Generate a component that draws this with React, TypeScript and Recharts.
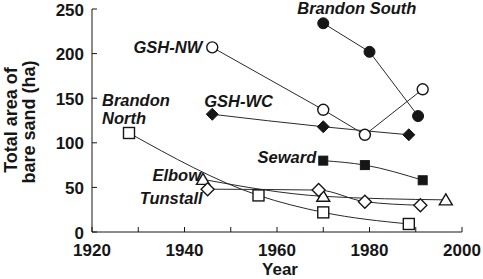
import { LineChart, Line, XAxis, YAxis, Label } from 'recharts'

const FONT = '"Liberation Sans", Arial, sans-serif'
const INK = '#161616'

// years + bare sand area (ha) per dune system
const brandonSouthYears = [1970, 1980, 1990.5]
const brandonSouthArea = [234, 202, 130]
const gshNwYears = [1946, 1970, 1979, 1991.5]
const gshNwArea = [207, 137, 109, 160]
const gshWcYears = [1946, 1970, 1988.5]
const gshWcArea = [132, 118, 109]
const sewardYears = [1970, 1979, 1991.5]
const sewardArea = [80, 75, 58]
const elbowYears = [1944, 1970, 1996.5]
const elbowArea = [59, 40, 36]
const tunstallYears = [1945, 1969, 1979, 1991]
const tunstallArea = [48, 47, 34, 30]
const brandonNorthYears = [1928, 1956, 1970, 1988.5]
const brandonNorthArea = [111, 41, 22, 9]

const xTicks = [1920, 1930, 1940, 1950, 1960, 1970, 1980, 1990, 2000]
const yTicks = [0, 50, 100, 150, 200, 250]

const zip = (years: number[], area: number[]) => years.map((year, i) => ({ year, area: area[i] }))

type Shape = 'circle' | 'diamond' | 'square' | 'triangle'

function marker(shape: Shape, filled: boolean) {
  return (p: any) => {
    const { cx, cy, index } = p
    if (cx == null || cy == null) return <g key={index} />
    const fill = filled ? INK : '#fff'
    const common = { fill, stroke: INK, strokeWidth: filled ? 1 : 1.4 }
    if (shape === 'circle') return <circle key={index} cx={cx} cy={cy} r={5.5} {...common} />
    if (shape === 'square') {
      const s = filled ? 9 : 11
      return <rect key={index} x={cx - s / 2} y={cy - s / 2} width={s} height={s} {...common} />
    }
    if (shape === 'diamond') {
      const h = filled ? 6 : 6.5
      return <polygon key={index} points={`${cx},${cy - h} ${cx + h},${cy} ${cx},${cy + h} ${cx - h},${cy}`} {...common} />
    }
    return <polygon key={index} points={`${cx},${cy - 6} ${cx + 6.5},${cy + 5} ${cx - 6.5},${cy + 5}`} {...common} />
  }
}

// series name, placed relative to the first point of the series
function seriesName(lines: string[], dx: number, dy: number, anchor: 'start' | 'end') {
  return (p: any) => {
    if (p.index !== 0) return <g key={p.index} />
    const x = p.x ?? p.viewBox?.x
    const y = p.y ?? p.viewBox?.y
    return (
      <g key="name">
        {lines.map((t, i) => (
          <text
            key={t}
            x={x + dx}
            y={y + dy + i * 18}
            textAnchor={anchor}
            fontFamily={FONT}
            fontSize={16.5}
            fontWeight="bold"
            fontStyle="italic"
            fill={INK}
          >
            {t}
          </text>
        ))}
      </g>
    )
  }
}

function XTick({ x, y, payload }: any) {
  return (
    <g>
      <line x1={x} x2={x} y1={y} y2={y - 5} stroke={INK} />
      {payload.value % 20 === 0 && (
        <text x={x} y={y + 24} textAnchor="middle" fontFamily={FONT} fontSize={17} fontWeight="bold" fill={INK}>
          {payload.value}
        </text>
      )}
    </g>
  )
}

function YTick({ x, y, payload }: any) {
  return (
    <g>
      <line x1={x} x2={x + 5} y1={y} y2={y} stroke={INK} />
      <text x={x - 8} y={y + 6.5} textAnchor="end" fontFamily={FONT} fontSize={17} fontWeight="bold" fill={INK}>
        {payload.value}
      </text>
    </g>
  )
}

function YTitle() {
  const t = { fontFamily: FONT, fontSize: 18, fontWeight: 'bold', fill: INK, textAnchor: 'middle' as const }
  return (
    <g>
      <text x={17} y={120} transform="rotate(-90, 17, 120)" {...t}>Total area of</text>
      <text x={35} y={122} transform="rotate(-90, 35, 122)" {...t}>bare sand (ha)</text>
    </g>
  )
}

function XTitle() {
  return (
    <text x={280} y={275} textAnchor="middle" fontFamily={FONT} fontSize={17} fontWeight="bold" fill={INK}>
      Year
    </text>
  )
}

const series = [
  { key: 'bs', data: zip(brandonSouthYears, brandonSouthArea), curve: 'linear', shape: 'circle' as Shape, filled: true, name: seriesName(['Brandon South'], -26, -9, 'start') },
  { key: 'nw', data: zip(gshNwYears, gshNwArea), curve: 'linear', shape: 'circle' as Shape, filled: false, name: seriesName(['GSH-NW'], -10, 5.5, 'end') },
  { key: 'wc', data: zip(gshWcYears, gshWcArea), curve: 'monotone', shape: 'diamond' as Shape, filled: true, name: seriesName(['GSH-WC'], -8, -7.5, 'start') },
  { key: 'sw', data: zip(sewardYears, sewardArea), curve: 'monotone', shape: 'square' as Shape, filled: true, name: seriesName(['Seward'], -7, 2, 'end') },
  { key: 'el', data: zip(elbowYears, elbowArea), curve: 'monotone', shape: 'triangle' as Shape, filled: false, name: seriesName(['Elbow'], -2, 2, 'end') },
  { key: 'tu', data: zip(tunstallYears, tunstallArea), curve: 'monotone', shape: 'diamond' as Shape, filled: false, name: seriesName(['Tunstall'], -5, 14.7, 'end') },
  { key: 'bn', data: zip(brandonNorthYears, brandonNorthArea), curve: 'monotone', shape: 'square' as Shape, filled: false, name: seriesName(['Brandon', 'North'], -27, -26.7, 'start') },
]

export default function App() {
  return (
    <div style={{ position: 'absolute', left: 0, top: 0, background: '#fff' }}>
      <LineChart width={483} height={279} margin={{ top: 9, right: 21, bottom: 0, left: 0 }}>
        <XAxis
          type="number"
          dataKey="year"
          domain={[1920, 2000]}
          ticks={xTicks}
          interval={0}
          allowDuplicatedCategory={false}
          height={47}
          tickSize={0}
          tickMargin={0}
          tickLine={false}
          axisLine={{ stroke: INK }}
          tick={<XTick />}
        >
          <Label content={<XTitle />} />
        </XAxis>
        <YAxis
          type="number"
          domain={[0, 250]}
          ticks={yTicks}
          interval={0}
          width={92}
          tickSize={0}
          tickMargin={0}
          tickLine={false}
          axisLine={{ stroke: INK }}
          tick={<YTick />}
        >
          <Label content={<YTitle />} />
        </YAxis>
        {series.map((s) => (
          <Line
            key={s.key}
            data={s.data}
            dataKey="area"
            type={s.curve as any}
            stroke="#2a2a2a"
            strokeWidth={1}
            dot={marker(s.shape, s.filled)}
            activeDot={false}
            label={s.name}
            isAnimationActive={false}
          />
        ))}
      </LineChart>
    </div>
  )
}
